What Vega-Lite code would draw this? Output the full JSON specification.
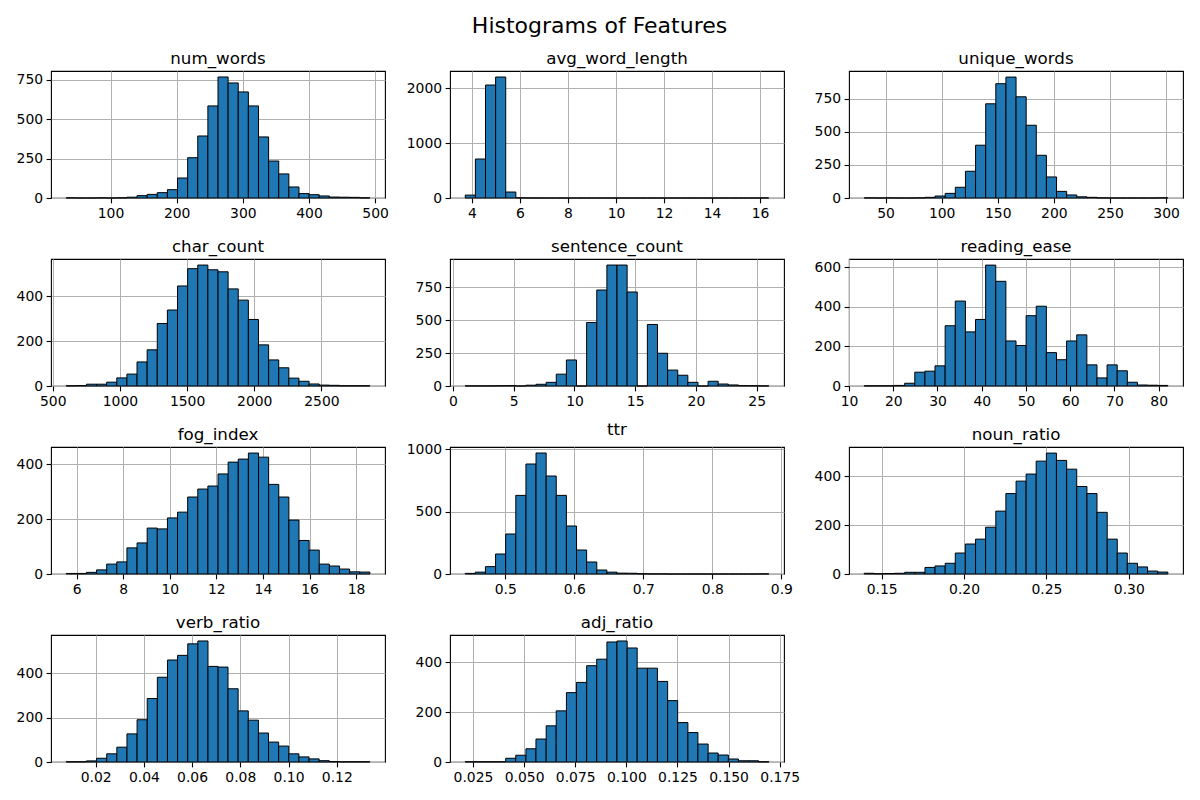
{
"$schema": "https://vega.github.io/schema/vega-lite/v6.json",
"background": "white",
"padding": {"left": 15, "top": 14, "right": 5, "bottom": 5},
"title": {"text": "Histograms of Features", "fontSize": 22, "font": "DejaVu Sans", "fontWeight": "normal", "color": "black", "anchor": "middle", "offset": 13},
"config": {
  "font": "DejaVu Sans",
  "view": {"stroke": "black", "strokeWidth": 1.1},
  "axis": {"grid": true, "gridColor": "#b0b0b0", "gridWidth": 1, "domain": false, "tickColor": "black", "tickSize": 4.9, "tickWidth": 1.1, "labelFontSize": 13.9, "labelColor": "black", "labelPadding": 3.5, "zindex": 1, "labelOverlap": false, "labelFlush": false, "labelFont": "DejaVu Sans"},
  "title": {"fontSize": 16.7, "fontWeight": "normal", "color": "black", "offset": 3, "font": "DejaVu Sans"},
  "bar": {"fill": "#1f77b4", "stroke": "black", "strokeWidth": 1}
},
"data": {"name": "hist"},
"datasets": {"hist": [
{"feature":"num_words","start":33,"end":48.3,"count":1},
{"feature":"num_words","start":48.3,"end":63.6,"count":0},
{"feature":"num_words","start":63.6,"end":78.9,"count":0},
{"feature":"num_words","start":78.9,"end":94.2,"count":1},
{"feature":"num_words","start":94.2,"end":109.5,"count":0},
{"feature":"num_words","start":109.5,"end":124.8,"count":1},
{"feature":"num_words","start":124.8,"end":140.1,"count":5},
{"feature":"num_words","start":140.1,"end":155.4,"count":15},
{"feature":"num_words","start":155.4,"end":170.7,"count":23},
{"feature":"num_words","start":170.7,"end":186,"count":34},
{"feature":"num_words","start":186,"end":201.3,"count":53},
{"feature":"num_words","start":201.3,"end":216.6,"count":127},
{"feature":"num_words","start":216.6,"end":231.9,"count":256},
{"feature":"num_words","start":231.9,"end":247.2,"count":394},
{"feature":"num_words","start":247.2,"end":262.5,"count":585},
{"feature":"num_words","start":262.5,"end":277.8,"count":769},
{"feature":"num_words","start":277.8,"end":293.1,"count":731},
{"feature":"num_words","start":293.1,"end":308.4,"count":674},
{"feature":"num_words","start":308.4,"end":323.7,"count":585},
{"feature":"num_words","start":323.7,"end":339,"count":388},
{"feature":"num_words","start":339,"end":354.3,"count":235},
{"feature":"num_words","start":354.3,"end":369.6,"count":153},
{"feature":"num_words","start":369.6,"end":384.9,"count":70},
{"feature":"num_words","start":384.9,"end":400.2,"count":28},
{"feature":"num_words","start":400.2,"end":415.5,"count":21},
{"feature":"num_words","start":415.5,"end":430.8,"count":13},
{"feature":"num_words","start":430.8,"end":446.1,"count":6},
{"feature":"num_words","start":446.1,"end":461.4,"count":5},
{"feature":"num_words","start":461.4,"end":476.7,"count":4},
{"feature":"num_words","start":476.7,"end":492,"count":1},
{"feature":"avg_word_length","start":3.72,"end":4.141,"count":53},
{"feature":"avg_word_length","start":4.141,"end":4.563,"count":711},
{"feature":"avg_word_length","start":4.563,"end":4.984,"count":2061},
{"feature":"avg_word_length","start":4.984,"end":5.405,"count":2207},
{"feature":"avg_word_length","start":5.405,"end":5.827,"count":109},
{"feature":"avg_word_length","start":5.827,"end":6.248,"count":3},
{"feature":"avg_word_length","start":6.248,"end":6.669,"count":1},
{"feature":"avg_word_length","start":6.669,"end":7.09,"count":0},
{"feature":"avg_word_length","start":7.09,"end":7.512,"count":0},
{"feature":"avg_word_length","start":7.512,"end":7.933,"count":0},
{"feature":"avg_word_length","start":7.933,"end":8.354,"count":0},
{"feature":"avg_word_length","start":8.354,"end":8.776,"count":0},
{"feature":"avg_word_length","start":8.776,"end":9.197,"count":0},
{"feature":"avg_word_length","start":9.197,"end":9.618,"count":0},
{"feature":"avg_word_length","start":9.618,"end":10.04,"count":0},
{"feature":"avg_word_length","start":10.04,"end":10.461,"count":0},
{"feature":"avg_word_length","start":10.461,"end":10.882,"count":0},
{"feature":"avg_word_length","start":10.882,"end":11.303,"count":0},
{"feature":"avg_word_length","start":11.303,"end":11.725,"count":0},
{"feature":"avg_word_length","start":11.725,"end":12.146,"count":0},
{"feature":"avg_word_length","start":12.146,"end":12.567,"count":0},
{"feature":"avg_word_length","start":12.567,"end":12.989,"count":0},
{"feature":"avg_word_length","start":12.989,"end":13.41,"count":0},
{"feature":"avg_word_length","start":13.41,"end":13.831,"count":0},
{"feature":"avg_word_length","start":13.831,"end":14.253,"count":0},
{"feature":"avg_word_length","start":14.253,"end":14.674,"count":0},
{"feature":"avg_word_length","start":14.674,"end":15.095,"count":0},
{"feature":"avg_word_length","start":15.095,"end":15.516,"count":0},
{"feature":"avg_word_length","start":15.516,"end":15.938,"count":0},
{"feature":"avg_word_length","start":15.938,"end":16.359,"count":1},
{"feature":"unique_words","start":31,"end":40.02,"count":1},
{"feature":"unique_words","start":40.02,"end":49.04,"count":0},
{"feature":"unique_words","start":49.04,"end":58.06,"count":1},
{"feature":"unique_words","start":58.06,"end":67.08,"count":0},
{"feature":"unique_words","start":67.08,"end":76.1,"count":0},
{"feature":"unique_words","start":76.1,"end":85.12,"count":1},
{"feature":"unique_words","start":85.12,"end":94.14,"count":5},
{"feature":"unique_words","start":94.14,"end":103.16,"count":15},
{"feature":"unique_words","start":103.16,"end":112.18,"count":35},
{"feature":"unique_words","start":112.18,"end":121.2,"count":81},
{"feature":"unique_words","start":121.2,"end":130.22,"count":202},
{"feature":"unique_words","start":130.22,"end":139.24,"count":399},
{"feature":"unique_words","start":139.24,"end":148.26,"count":712},
{"feature":"unique_words","start":148.26,"end":157.28,"count":864},
{"feature":"unique_words","start":157.28,"end":166.3,"count":914},
{"feature":"unique_words","start":166.3,"end":175.32,"count":765},
{"feature":"unique_words","start":175.32,"end":184.34,"count":550},
{"feature":"unique_words","start":184.34,"end":193.36,"count":323},
{"feature":"unique_words","start":193.36,"end":202.38,"count":159},
{"feature":"unique_words","start":202.38,"end":211.4,"count":50},
{"feature":"unique_words","start":211.4,"end":220.42,"count":23},
{"feature":"unique_words","start":220.42,"end":229.44,"count":9},
{"feature":"unique_words","start":229.44,"end":238.46,"count":5},
{"feature":"unique_words","start":238.46,"end":247.48,"count":1},
{"feature":"unique_words","start":247.48,"end":256.5,"count":0},
{"feature":"unique_words","start":256.5,"end":265.52,"count":0},
{"feature":"unique_words","start":265.52,"end":274.54,"count":0},
{"feature":"unique_words","start":274.54,"end":283.56,"count":0},
{"feature":"unique_words","start":283.56,"end":292.58,"count":0},
{"feature":"unique_words","start":292.58,"end":301.6,"count":1},
{"feature":"char_count","start":600,"end":675.3,"count":1},
{"feature":"char_count","start":675.3,"end":750.7,"count":2},
{"feature":"char_count","start":750.7,"end":826,"count":8},
{"feature":"char_count","start":826,"end":901.3,"count":8},
{"feature":"char_count","start":901.3,"end":976.7,"count":17},
{"feature":"char_count","start":976.7,"end":1052,"count":36},
{"feature":"char_count","start":1052,"end":1127.3,"count":53},
{"feature":"char_count","start":1127.3,"end":1202.7,"count":107},
{"feature":"char_count","start":1202.7,"end":1278,"count":161},
{"feature":"char_count","start":1278,"end":1353.3,"count":278},
{"feature":"char_count","start":1353.3,"end":1428.7,"count":338},
{"feature":"char_count","start":1428.7,"end":1504,"count":445},
{"feature":"char_count","start":1504,"end":1579.3,"count":522},
{"feature":"char_count","start":1579.3,"end":1654.7,"count":538},
{"feature":"char_count","start":1654.7,"end":1730,"count":517},
{"feature":"char_count","start":1730,"end":1805.3,"count":508},
{"feature":"char_count","start":1805.3,"end":1880.7,"count":432},
{"feature":"char_count","start":1880.7,"end":1956,"count":382},
{"feature":"char_count","start":1956,"end":2031.3,"count":296},
{"feature":"char_count","start":2031.3,"end":2106.7,"count":183},
{"feature":"char_count","start":2106.7,"end":2182,"count":116},
{"feature":"char_count","start":2182,"end":2257.3,"count":81},
{"feature":"char_count","start":2257.3,"end":2332.7,"count":35},
{"feature":"char_count","start":2332.7,"end":2408,"count":21},
{"feature":"char_count","start":2408,"end":2483.3,"count":9},
{"feature":"char_count","start":2483.3,"end":2558.7,"count":4},
{"feature":"char_count","start":2558.7,"end":2634,"count":3},
{"feature":"char_count","start":2634,"end":2709.3,"count":1},
{"feature":"char_count","start":2709.3,"end":2784.7,"count":1},
{"feature":"char_count","start":2784.7,"end":2860,"count":1},
{"feature":"sentence_count","start":1,"end":1.8333,"count":1},
{"feature":"sentence_count","start":1.8333,"end":2.6667,"count":1},
{"feature":"sentence_count","start":2.6667,"end":3.5,"count":1},
{"feature":"sentence_count","start":3.5,"end":4.3333,"count":2},
{"feature":"sentence_count","start":4.3333,"end":5.1667,"count":3},
{"feature":"sentence_count","start":5.1667,"end":6,"count":0},
{"feature":"sentence_count","start":6,"end":6.8333,"count":6},
{"feature":"sentence_count","start":6.8333,"end":7.6667,"count":13},
{"feature":"sentence_count","start":7.6667,"end":8.5,"count":28},
{"feature":"sentence_count","start":8.5,"end":9.3333,"count":90},
{"feature":"sentence_count","start":9.3333,"end":10.1667,"count":198},
{"feature":"sentence_count","start":10.1667,"end":11,"count":0},
{"feature":"sentence_count","start":11,"end":11.8333,"count":483},
{"feature":"sentence_count","start":11.8333,"end":12.6667,"count":730},
{"feature":"sentence_count","start":12.6667,"end":13.5,"count":920},
{"feature":"sentence_count","start":13.5,"end":14.3333,"count":920},
{"feature":"sentence_count","start":14.3333,"end":15.1667,"count":715},
{"feature":"sentence_count","start":15.1667,"end":16,"count":0},
{"feature":"sentence_count","start":16,"end":16.8333,"count":468},
{"feature":"sentence_count","start":16.8333,"end":17.6667,"count":249},
{"feature":"sentence_count","start":17.6667,"end":18.5,"count":121},
{"feature":"sentence_count","start":18.5,"end":19.3333,"count":82},
{"feature":"sentence_count","start":19.3333,"end":20.1667,"count":28},
{"feature":"sentence_count","start":20.1667,"end":21,"count":0},
{"feature":"sentence_count","start":21,"end":21.8333,"count":36},
{"feature":"sentence_count","start":21.8333,"end":22.6667,"count":15},
{"feature":"sentence_count","start":22.6667,"end":23.5,"count":8},
{"feature":"sentence_count","start":23.5,"end":24.3333,"count":3},
{"feature":"sentence_count","start":24.3333,"end":25.1667,"count":2},
{"feature":"sentence_count","start":25.1667,"end":26,"count":1},
{"feature":"reading_ease","start":13.43,"end":15.72,"count":1},
{"feature":"reading_ease","start":15.72,"end":18.01,"count":1},
{"feature":"reading_ease","start":18.01,"end":20.29,"count":1},
{"feature":"reading_ease","start":20.29,"end":22.58,"count":3},
{"feature":"reading_ease","start":22.58,"end":24.87,"count":14},
{"feature":"reading_ease","start":24.87,"end":27.16,"count":70},
{"feature":"reading_ease","start":27.16,"end":29.44,"count":75},
{"feature":"reading_ease","start":29.44,"end":31.73,"count":102},
{"feature":"reading_ease","start":31.73,"end":34.02,"count":305},
{"feature":"reading_ease","start":34.02,"end":36.31,"count":430},
{"feature":"reading_ease","start":36.31,"end":38.59,"count":274},
{"feature":"reading_ease","start":38.59,"end":40.88,"count":337},
{"feature":"reading_ease","start":40.88,"end":43.17,"count":612},
{"feature":"reading_ease","start":43.17,"end":45.46,"count":530},
{"feature":"reading_ease","start":45.46,"end":47.75,"count":228},
{"feature":"reading_ease","start":47.75,"end":50.03,"count":205},
{"feature":"reading_ease","start":50.03,"end":52.32,"count":356},
{"feature":"reading_ease","start":52.32,"end":54.61,"count":404},
{"feature":"reading_ease","start":54.61,"end":56.9,"count":169},
{"feature":"reading_ease","start":56.9,"end":59.18,"count":133},
{"feature":"reading_ease","start":59.18,"end":61.47,"count":228},
{"feature":"reading_ease","start":61.47,"end":63.76,"count":259},
{"feature":"reading_ease","start":63.76,"end":66.05,"count":107},
{"feature":"reading_ease","start":66.05,"end":68.33,"count":41},
{"feature":"reading_ease","start":68.33,"end":70.62,"count":107},
{"feature":"reading_ease","start":70.62,"end":72.91,"count":77},
{"feature":"reading_ease","start":72.91,"end":75.2,"count":19},
{"feature":"reading_ease","start":75.2,"end":77.49,"count":5},
{"feature":"reading_ease","start":77.49,"end":79.77,"count":4},
{"feature":"reading_ease","start":79.77,"end":82.06,"count":3},
{"feature":"fog_index","start":5.555,"end":5.99,"count":2},
{"feature":"fog_index","start":5.99,"end":6.424,"count":2},
{"feature":"fog_index","start":6.424,"end":6.859,"count":6},
{"feature":"fog_index","start":6.859,"end":7.293,"count":15},
{"feature":"fog_index","start":7.293,"end":7.728,"count":36},
{"feature":"fog_index","start":7.728,"end":8.162,"count":44},
{"feature":"fog_index","start":8.162,"end":8.597,"count":95},
{"feature":"fog_index","start":8.597,"end":9.031,"count":113},
{"feature":"fog_index","start":9.031,"end":9.466,"count":167},
{"feature":"fog_index","start":9.466,"end":9.9,"count":164},
{"feature":"fog_index","start":9.9,"end":10.335,"count":204},
{"feature":"fog_index","start":10.335,"end":10.769,"count":225},
{"feature":"fog_index","start":10.769,"end":11.204,"count":280},
{"feature":"fog_index","start":11.204,"end":11.638,"count":309},
{"feature":"fog_index","start":11.638,"end":12.073,"count":320},
{"feature":"fog_index","start":12.073,"end":12.507,"count":364},
{"feature":"fog_index","start":12.507,"end":12.942,"count":407},
{"feature":"fog_index","start":12.942,"end":13.376,"count":418},
{"feature":"fog_index","start":13.376,"end":13.811,"count":440},
{"feature":"fog_index","start":13.811,"end":14.245,"count":425},
{"feature":"fog_index","start":14.245,"end":14.68,"count":326},
{"feature":"fog_index","start":14.68,"end":15.114,"count":280},
{"feature":"fog_index","start":15.114,"end":15.549,"count":196},
{"feature":"fog_index","start":15.549,"end":15.983,"count":122},
{"feature":"fog_index","start":15.983,"end":16.418,"count":87},
{"feature":"fog_index","start":16.418,"end":16.852,"count":36},
{"feature":"fog_index","start":16.852,"end":17.287,"count":29},
{"feature":"fog_index","start":17.287,"end":17.721,"count":18},
{"feature":"fog_index","start":17.721,"end":18.156,"count":8},
{"feature":"fog_index","start":18.156,"end":18.59,"count":7},
{"feature":"ttr","start":0.442,"end":0.4567,"count":5},
{"feature":"ttr","start":0.4567,"end":0.4713,"count":15},
{"feature":"ttr","start":0.4713,"end":0.486,"count":59},
{"feature":"ttr","start":0.486,"end":0.5006,"count":160},
{"feature":"ttr","start":0.5006,"end":0.5153,"count":320},
{"feature":"ttr","start":0.5153,"end":0.53,"count":629},
{"feature":"ttr","start":0.53,"end":0.5446,"count":880},
{"feature":"ttr","start":0.5446,"end":0.5593,"count":968},
{"feature":"ttr","start":0.5593,"end":0.5739,"count":784},
{"feature":"ttr","start":0.5739,"end":0.5886,"count":629},
{"feature":"ttr","start":0.5886,"end":0.6033,"count":384},
{"feature":"ttr","start":0.6033,"end":0.6179,"count":192},
{"feature":"ttr","start":0.6179,"end":0.6326,"count":96},
{"feature":"ttr","start":0.6326,"end":0.6472,"count":32},
{"feature":"ttr","start":0.6472,"end":0.6619,"count":15},
{"feature":"ttr","start":0.6619,"end":0.6766,"count":7},
{"feature":"ttr","start":0.6766,"end":0.6912,"count":6},
{"feature":"ttr","start":0.6912,"end":0.7059,"count":2},
{"feature":"ttr","start":0.7059,"end":0.7205,"count":1},
{"feature":"ttr","start":0.7205,"end":0.7352,"count":1},
{"feature":"ttr","start":0.7352,"end":0.7499,"count":0},
{"feature":"ttr","start":0.7499,"end":0.7645,"count":0},
{"feature":"ttr","start":0.7645,"end":0.7792,"count":0},
{"feature":"ttr","start":0.7792,"end":0.7938,"count":0},
{"feature":"ttr","start":0.7938,"end":0.8085,"count":0},
{"feature":"ttr","start":0.8085,"end":0.8232,"count":0},
{"feature":"ttr","start":0.8232,"end":0.8378,"count":0},
{"feature":"ttr","start":0.8378,"end":0.8525,"count":0},
{"feature":"ttr","start":0.8525,"end":0.8671,"count":0},
{"feature":"ttr","start":0.8671,"end":0.8818,"count":1},
{"feature":"noun_ratio","start":0.1394,"end":0.1455,"count":3},
{"feature":"noun_ratio","start":0.1455,"end":0.1517,"count":1},
{"feature":"noun_ratio","start":0.1517,"end":0.1578,"count":2},
{"feature":"noun_ratio","start":0.1578,"end":0.164,"count":3},
{"feature":"noun_ratio","start":0.164,"end":0.1701,"count":7},
{"feature":"noun_ratio","start":0.1701,"end":0.1763,"count":7},
{"feature":"noun_ratio","start":0.1763,"end":0.1824,"count":27},
{"feature":"noun_ratio","start":0.1824,"end":0.1886,"count":33},
{"feature":"noun_ratio","start":0.1886,"end":0.1947,"count":44},
{"feature":"noun_ratio","start":0.1947,"end":0.2008,"count":86},
{"feature":"noun_ratio","start":0.2008,"end":0.207,"count":123},
{"feature":"noun_ratio","start":0.207,"end":0.2131,"count":143},
{"feature":"noun_ratio","start":0.2131,"end":0.2193,"count":192},
{"feature":"noun_ratio","start":0.2193,"end":0.2254,"count":258},
{"feature":"noun_ratio","start":0.2254,"end":0.2316,"count":330},
{"feature":"noun_ratio","start":0.2316,"end":0.2377,"count":381},
{"feature":"noun_ratio","start":0.2377,"end":0.2438,"count":410},
{"feature":"noun_ratio","start":0.2438,"end":0.25,"count":463},
{"feature":"noun_ratio","start":0.25,"end":0.2561,"count":496},
{"feature":"noun_ratio","start":0.2561,"end":0.2623,"count":466},
{"feature":"noun_ratio","start":0.2623,"end":0.2684,"count":430},
{"feature":"noun_ratio","start":0.2684,"end":0.2746,"count":359},
{"feature":"noun_ratio","start":0.2746,"end":0.2807,"count":330},
{"feature":"noun_ratio","start":0.2807,"end":0.2869,"count":253},
{"feature":"noun_ratio","start":0.2869,"end":0.293,"count":143},
{"feature":"noun_ratio","start":0.293,"end":0.2991,"count":86},
{"feature":"noun_ratio","start":0.2991,"end":0.3053,"count":44},
{"feature":"noun_ratio","start":0.3053,"end":0.3114,"count":29},
{"feature":"noun_ratio","start":0.3114,"end":0.3176,"count":12},
{"feature":"noun_ratio","start":0.3176,"end":0.3237,"count":8},
{"feature":"verb_ratio","start":0.0078,"end":0.012,"count":1},
{"feature":"verb_ratio","start":0.012,"end":0.0162,"count":1},
{"feature":"verb_ratio","start":0.0162,"end":0.0204,"count":5},
{"feature":"verb_ratio","start":0.0204,"end":0.0246,"count":17},
{"feature":"verb_ratio","start":0.0246,"end":0.0288,"count":37},
{"feature":"verb_ratio","start":0.0288,"end":0.033,"count":67},
{"feature":"verb_ratio","start":0.033,"end":0.0372,"count":127},
{"feature":"verb_ratio","start":0.0372,"end":0.0414,"count":191},
{"feature":"verb_ratio","start":0.0414,"end":0.0456,"count":287},
{"feature":"verb_ratio","start":0.0456,"end":0.0498,"count":383},
{"feature":"verb_ratio","start":0.0498,"end":0.054,"count":461},
{"feature":"verb_ratio","start":0.054,"end":0.0582,"count":482},
{"feature":"verb_ratio","start":0.0582,"end":0.0624,"count":534},
{"feature":"verb_ratio","start":0.0624,"end":0.0666,"count":547},
{"feature":"verb_ratio","start":0.0666,"end":0.0708,"count":432},
{"feature":"verb_ratio","start":0.0708,"end":0.0749,"count":429},
{"feature":"verb_ratio","start":0.0749,"end":0.0791,"count":331},
{"feature":"verb_ratio","start":0.0791,"end":0.0833,"count":231},
{"feature":"verb_ratio","start":0.0833,"end":0.0875,"count":189},
{"feature":"verb_ratio","start":0.0875,"end":0.0917,"count":131},
{"feature":"verb_ratio","start":0.0917,"end":0.0959,"count":90},
{"feature":"verb_ratio","start":0.0959,"end":0.1001,"count":72},
{"feature":"verb_ratio","start":0.1001,"end":0.1043,"count":37},
{"feature":"verb_ratio","start":0.1043,"end":0.1085,"count":23},
{"feature":"verb_ratio","start":0.1085,"end":0.1127,"count":14},
{"feature":"verb_ratio","start":0.1127,"end":0.1169,"count":6},
{"feature":"verb_ratio","start":0.1169,"end":0.1211,"count":2},
{"feature":"verb_ratio","start":0.1211,"end":0.1253,"count":1},
{"feature":"verb_ratio","start":0.1253,"end":0.1295,"count":1},
{"feature":"verb_ratio","start":0.1295,"end":0.1337,"count":1},
{"feature":"adj_ratio","start":0.0212,"end":0.0261,"count":1},
{"feature":"adj_ratio","start":0.0261,"end":0.0311,"count":1},
{"feature":"adj_ratio","start":0.0311,"end":0.036,"count":1},
{"feature":"adj_ratio","start":0.036,"end":0.041,"count":1},
{"feature":"adj_ratio","start":0.041,"end":0.0459,"count":15},
{"feature":"adj_ratio","start":0.0459,"end":0.0509,"count":27},
{"feature":"adj_ratio","start":0.0509,"end":0.0558,"count":53},
{"feature":"adj_ratio","start":0.0558,"end":0.0608,"count":92},
{"feature":"adj_ratio","start":0.0608,"end":0.0657,"count":145},
{"feature":"adj_ratio","start":0.0657,"end":0.0707,"count":205},
{"feature":"adj_ratio","start":0.0707,"end":0.0756,"count":278},
{"feature":"adj_ratio","start":0.0756,"end":0.0806,"count":319},
{"feature":"adj_ratio","start":0.0806,"end":0.0855,"count":386},
{"feature":"adj_ratio","start":0.0855,"end":0.0905,"count":412},
{"feature":"adj_ratio","start":0.0905,"end":0.0954,"count":481},
{"feature":"adj_ratio","start":0.0954,"end":0.1004,"count":485},
{"feature":"adj_ratio","start":0.1004,"end":0.1053,"count":457},
{"feature":"adj_ratio","start":0.1053,"end":0.1103,"count":376},
{"feature":"adj_ratio","start":0.1103,"end":0.1152,"count":376},
{"feature":"adj_ratio","start":0.1152,"end":0.1202,"count":323},
{"feature":"adj_ratio","start":0.1202,"end":0.1251,"count":246},
{"feature":"adj_ratio","start":0.1251,"end":0.1301,"count":158},
{"feature":"adj_ratio","start":0.1301,"end":0.135,"count":118},
{"feature":"adj_ratio","start":0.135,"end":0.14,"count":72},
{"feature":"adj_ratio","start":0.14,"end":0.1449,"count":36},
{"feature":"adj_ratio","start":0.1449,"end":0.1499,"count":28},
{"feature":"adj_ratio","start":0.1499,"end":0.1548,"count":12},
{"feature":"adj_ratio","start":0.1548,"end":0.1598,"count":5},
{"feature":"adj_ratio","start":0.1598,"end":0.1647,"count":5},
{"feature":"adj_ratio","start":0.1647,"end":0.1697,"count":1}
]},
"columns": 3,
"spacing": {"row": 61, "column": 65},
"bounds": "flush",
"concat": [
{"title": "num_words", "width": 334, "height": 127, "transform": [{"filter": "datum.feature == 'num_words'"}], "mark": "bar",
 "encoding": {"x": {"field": "start", "type": "quantitative", "title": null, "scale": {"domain": [10.05, 514.95], "nice": false, "zero": false}, "axis": {"values": [100,200,300,400,500], "format": "d"}},
  "x2": {"field": "end"},
  "y": {"field": "count", "type": "quantitative", "title": null, "scale": {"domain": [0, 807], "nice": false}, "axis": {"values": [0,250,500,750], "format": "d"}},
  "y2": {"datum": 0}}},
{"title": "avg_word_length", "width": 334, "height": 127, "transform": [{"filter": "datum.feature == 'avg_word_length'"}], "mark": "bar",
 "encoding": {"x": {"field": "start", "type": "quantitative", "title": null, "scale": {"domain": [3.084, 16.995], "nice": false, "zero": false}, "axis": {"values": [4,6,8,10,12,14,16], "format": "d"}},
  "x2": {"field": "end"},
  "y": {"field": "count", "type": "quantitative", "title": null, "scale": {"domain": [0, 2317], "nice": false}, "axis": {"values": [0,1000,2000], "format": "d"}},
  "y2": {"datum": 0}}},
{"title": "unique_words", "width": 334, "height": 127, "transform": [{"filter": "datum.feature == 'unique_words'"}], "mark": "bar",
 "encoding": {"x": {"field": "start", "type": "quantitative", "title": null, "scale": {"domain": [17.4, 315.1], "nice": false, "zero": false}, "axis": {"values": [50,100,150,200,250,300], "format": "d"}},
  "x2": {"field": "end"},
  "y": {"field": "count", "type": "quantitative", "title": null, "scale": {"domain": [0, 960], "nice": false}, "axis": {"values": [0,250,500,750], "format": "d"}},
  "y2": {"datum": 0}}},
{"title": "char_count", "width": 334, "height": 127, "transform": [{"filter": "datum.feature == 'char_count'"}], "mark": "bar",
 "encoding": {"x": {"field": "start", "type": "quantitative", "title": null, "scale": {"domain": [487, 2973], "nice": false, "zero": false}, "axis": {"values": [500,1000,1500,2000,2500], "format": "d"}},
  "x2": {"field": "end"},
  "y": {"field": "count", "type": "quantitative", "title": null, "scale": {"domain": [0, 565], "nice": false}, "axis": {"values": [0,200,400], "format": "d"}},
  "y2": {"datum": 0}}},
{"title": "sentence_count", "width": 334, "height": 127, "transform": [{"filter": "datum.feature == 'sentence_count'"}], "mark": "bar",
 "encoding": {"x": {"field": "start", "type": "quantitative", "title": null, "scale": {"domain": [-0.25, 27.25], "nice": false, "zero": false}, "axis": {"values": [0,5,10,15,20,25], "format": "d"}},
  "x2": {"field": "end"},
  "y": {"field": "count", "type": "quantitative", "title": null, "scale": {"domain": [0, 966], "nice": false}, "axis": {"values": [0,250,500,750], "format": "d"}},
  "y2": {"datum": 0}}},
{"title": "reading_ease", "width": 334, "height": 127, "transform": [{"filter": "datum.feature == 'reading_ease'"}], "mark": "bar",
 "encoding": {"x": {"field": "start", "type": "quantitative", "title": null, "scale": {"domain": [10, 85.49], "nice": false, "zero": false}, "axis": {"values": [10,20,30,40,50,60,70,80], "format": "d"}},
  "x2": {"field": "end"},
  "y": {"field": "count", "type": "quantitative", "title": null, "scale": {"domain": [0, 643], "nice": false}, "axis": {"values": [0,200,400,600], "format": "d"}},
  "y2": {"datum": 0}}},
{"title": "fog_index", "width": 334, "height": 127, "transform": [{"filter": "datum.feature == 'fog_index'"}], "mark": "bar",
 "encoding": {"x": {"field": "start", "type": "quantitative", "title": null, "scale": {"domain": [4.903, 19.24], "nice": false, "zero": false}, "axis": {"values": [6,8,10,12,14,16,18], "format": "d"}},
  "x2": {"field": "end"},
  "y": {"field": "count", "type": "quantitative", "title": null, "scale": {"domain": [0, 462], "nice": false}, "axis": {"values": [0,200,400], "format": "d"}},
  "y2": {"datum": 0}}},
{"title": "ttr", "width": 334, "height": 127, "transform": [{"filter": "datum.feature == 'ttr'"}], "mark": "bar",
 "encoding": {"x": {"field": "start", "type": "quantitative", "title": null, "scale": {"domain": [0.42, 0.9038], "nice": false, "zero": false}, "axis": {"values": [0.5,0.6,0.7,0.8,0.9], "format": ".1f"}},
  "x2": {"field": "end"},
  "y": {"field": "count", "type": "quantitative", "title": null, "scale": {"domain": [0, 1016], "nice": false}, "axis": {"values": [0,500,1000], "format": "d"}},
  "y2": {"datum": 0}}},
{"title": "noun_ratio", "width": 334, "height": 127, "transform": [{"filter": "datum.feature == 'noun_ratio'"}], "mark": "bar",
 "encoding": {"x": {"field": "start", "type": "quantitative", "title": null, "scale": {"domain": [0.1302, 0.3329], "nice": false, "zero": false}, "axis": {"values": [0.15,0.2,0.25,0.3], "format": ".2f"}},
  "x2": {"field": "end"},
  "y": {"field": "count", "type": "quantitative", "title": null, "scale": {"domain": [0, 521], "nice": false}, "axis": {"values": [0,200,400], "format": "d"}},
  "y2": {"datum": 0}}},
{"title": "verb_ratio", "width": 334, "height": 127, "transform": [{"filter": "datum.feature == 'verb_ratio'"}], "mark": "bar",
 "encoding": {"x": {"field": "start", "type": "quantitative", "title": null, "scale": {"domain": [0.0015, 0.14], "nice": false, "zero": false}, "axis": {"values": [0.02,0.04,0.06,0.08,0.1,0.12], "format": ".2f"}},
  "x2": {"field": "end"},
  "y": {"field": "count", "type": "quantitative", "title": null, "scale": {"domain": [0, 574], "nice": false}, "axis": {"values": [0,200,400], "format": "d"}},
  "y2": {"datum": 0}}},
{"title": "adj_ratio", "width": 334, "height": 127, "transform": [{"filter": "datum.feature == 'adj_ratio'"}], "mark": "bar",
 "encoding": {"x": {"field": "start", "type": "quantitative", "title": null, "scale": {"domain": [0.01376, 0.1771], "nice": false, "zero": false}, "axis": {"values": [0.025,0.05,0.075,0.1,0.125,0.15,0.175], "format": ".3f"}},
  "x2": {"field": "end"},
  "y": {"field": "count", "type": "quantitative", "title": null, "scale": {"domain": [0, 509], "nice": false}, "axis": {"values": [0,200,400], "format": "d"}},
  "y2": {"datum": 0}}}
]
}
